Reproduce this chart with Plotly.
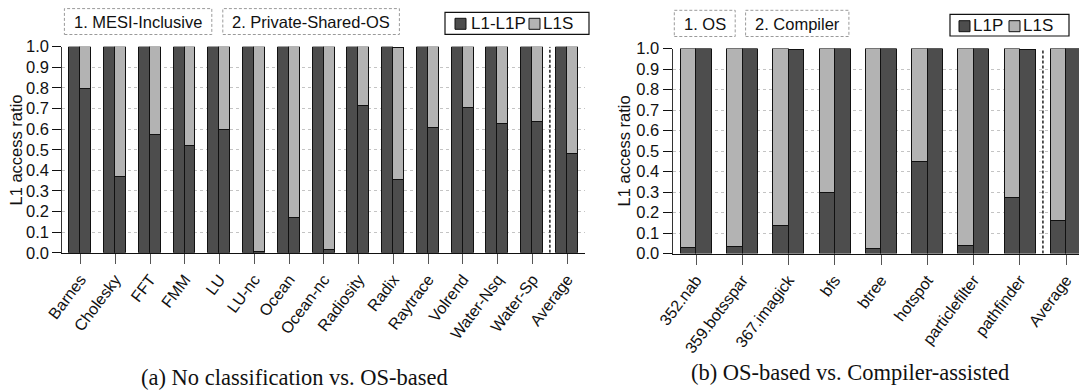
import plotly.graph_objects as go

# ---------------- data ----------------
cats_a = ["Barnes", "Cholesky", "FFT", "FMM", "LU", "LU-nc", "Ocean", "Ocean-nc",
          "Radiosity", "Radix", "Raytrace", "Volrend", "Water-Nsq", "Water-Sp", "Average"]
mesi_l1p = [1.0] * 15
psos_l1p = [0.795, 0.37, 0.572, 0.52, 0.597, 0.005, 0.17, 0.017, 0.714, 0.355,
            0.606, 0.702, 0.628, 0.636, 0.48]
psos_l1s = [0.205, 0.63, 0.428, 0.48, 0.403, 0.995, 0.83, 0.983, 0.286, 0.64,
            0.394, 0.298, 0.372, 0.364, 0.52]

cats_b = ["352.nab", "359.botsspar", "367.imagick", "bfs", "btree", "hotspot",
          "particlefilter", "pathfinder", "Average"]
os_l1p = [0.031, 0.033, 0.136, 0.296, 0.023, 0.448, 0.040, 0.274, 0.161]
os_l1s = [0.969, 0.967, 0.864, 0.704, 0.977, 0.552, 0.960, 0.726, 0.839]
comp_l1p = [0.998, 1.0, 0.993, 1.0, 1.0, 1.0, 0.998, 0.995, 0.998]

yticks = [0.0, 0.1, 0.2, 0.3, 0.4, 0.5, 0.6, 0.7, 0.8, 0.9, 1.0]
ytext = ["0.0", "0.1", "0.2", "0.3", "0.4", "0.5", "0.6", "0.7", "0.8", "0.9", "1.0"]

DARK = "#4d4d4d"
LIGHT = "#b3b3b3"
W, H = 1079, 390
SANS = "Liberation Sans, Arial, sans-serif"
SERIF = "Liberation Serif, Times New Roman, serif"


def X(px):
    return px / W


def Y(py):
    return 1 - py / H


fig = go.Figure()
line = dict(color="#111", width=1)

# left chart
wa = 0.316
xa1 = [i - wa / 2 for i in range(len(cats_a))]
xa2 = [i + wa / 2 for i in range(len(cats_a))]
fig.add_bar(x=xa1, y=mesi_l1p, width=wa, marker=dict(color=DARK, line=line),
            xaxis="x", yaxis="y", showlegend=False, name="L1-L1P")
fig.add_bar(x=xa2, y=psos_l1p, width=wa, marker=dict(color=DARK, line=line),
            xaxis="x", yaxis="y", showlegend=False, name="L1-L1P")
fig.add_bar(x=xa2, y=psos_l1s, width=wa, marker=dict(color=LIGHT, line=line),
            xaxis="x", yaxis="y", showlegend=False, name="L1S")

# right chart
wb = 0.335
xb1 = [i - wb / 2 for i in range(len(cats_b))]
xb2 = [i + wb / 2 for i in range(len(cats_b))]
fig.add_bar(x=xb1, y=os_l1p, width=wb, marker=dict(color=DARK, line=line),
            xaxis="x2", yaxis="y2", showlegend=False, name="L1P")
fig.add_bar(x=xb1, y=os_l1s, width=wb, marker=dict(color=LIGHT, line=line),
            xaxis="x2", yaxis="y2", showlegend=False, name="L1S")
fig.add_bar(x=xb2, y=comp_l1p, width=wb, marker=dict(color=DARK, line=line),
            xaxis="x2", yaxis="y2", showlegend=False, name="L1P")

xcommon = dict(showline=True, linecolor="#111", linewidth=1.2, ticks="outside",
               ticklen=10, tickcolor="#555", tickwidth=1.2, tickangle=-53,
               showgrid=False, zeroline=False, automargin=False,
               tickfont=dict(family=SANS, size=16, color="#111"), fixedrange=True)
ycommon = dict(range=[0, 1], tickvals=yticks, ticktext=ytext, showline=True,
               linecolor="#333", linewidth=1.2, ticks="outside", ticklen=9,
               tickcolor="#111", tickwidth=1.2, showgrid=True, gridcolor="#c4c4c4",
               griddash="dot", gridwidth=1, zeroline=False, automargin=False,
               tickfont=dict(family=SANS, size=16.5, color="#111"), fixedrange=True)

fig.update_layout(
    width=W, height=H, margin=dict(l=0, r=0, t=0, b=0),
    paper_bgcolor="white", plot_bgcolor="white", barmode="stack", bargap=0,
    xaxis=dict(domain=[X(62.3), X(585)], range=[-0.523, 14.51],
               tickvals=list(range(len(cats_a))), ticktext=cats_a, anchor="y", **xcommon),
    yaxis=dict(domain=[Y(252.8), Y(46.7)], anchor="x", **ycommon),
    xaxis2=dict(domain=[X(672.6), 1.0], range=[-0.506, 8.28],
                tickvals=list(range(len(cats_b))), ticktext=cats_b, anchor="y2", **xcommon),
    yaxis2=dict(domain=[Y(253.5), Y(48.5)], anchor="x2", **ycommon),
)

shapes = []
# separators before Average
shapes.append(dict(type="line", xref="x", yref="y", x0=len(cats_a) - 1.5, x1=len(cats_a) - 1.5,
                   y0=0, y1=1, line=dict(color="#222", width=1.5, dash="3px,2px")))
shapes.append(dict(type="line", xref="x2", yref="y2", x0=len(cats_b) - 1.5, x1=len(cats_b) - 1.5,
                   y0=0, y1=1, line=dict(color="#222", width=1.5, dash="3px,2px")))


def dbox(x0, x1, y0, y1):
    shapes.append(dict(type="rect", xref="paper", yref="paper", x0=X(x0), x1=X(x1),
                       y0=Y(y1), y1=Y(y0), line=dict(color="#9a9a9a", width=1, dash="3px,2px")))


def sbox(x0, x1, y0, y1, fill, lw=1):
    shapes.append(dict(type="rect", xref="paper", yref="paper", x0=X(x0), x1=X(x1),
                       y0=Y(y1), y1=Y(y0), fillcolor=fill, line=dict(color="#111", width=lw)))


annotations = []


def text(px, py, s, size=16, xanchor="center", family=SANS, angle=0):
    annotations.append(dict(x=X(px), y=Y(py), xref="paper", yref="paper", text=s,
                            showarrow=False, xanchor=xanchor, yanchor="middle",
                            textangle=angle, font=dict(family=family, size=size, color="#111")))


# config label boxes
dbox(64.4, 211.8, 8.6, 34.5)
dbox(222.8, 399.4, 8.6, 34.5)
text(138, 21.5, "1. MESI-Inclusive", size=16.5)
text(311, 21.5, "2. Private-Shared-OS", size=16.5)
dbox(674.3, 735.2, 10.3, 36.5)
dbox(745.6, 848.9, 10.3, 36.5)
text(704.8, 23.5, "1. OS", size=16.5)
text(797.2, 23.5, "2. Compiler", size=16.5)

# legends
sbox(445, 589, 12.3, 34.3, "white", 1.2)
sbox(455, 466, 18.3, 29.3, DARK)
text(469, 23.5, "L1-L1P", size=17, xanchor="left")
sbox(529, 540, 18.3, 29.3, LIGHT)
text(541, 23.5, "L1S", size=17, xanchor="left")

sbox(950, 1069, 14.3, 36, "white", 1.2)
sbox(959, 970, 20.7, 31.7, DARK)
text(971, 26, "L1P", size=17, xanchor="left")
sbox(1009, 1020, 20.7, 31.7, LIGHT)
text(1021, 26, "L1S", size=17, xanchor="left")

# axis titles
text(15.5, 150, "L1 access ratio", size=16.5, angle=-90)
text(624.4, 151, "L1 access ratio", size=16.5, angle=-90)

# captions
text(294, 377, "(a) No classification vs. OS-based", size=22.5, family=SERIF)
text(850, 372, "(b) OS-based vs. Compiler-assisted", size=22.5, family=SERIF)

fig.update_layout(shapes=shapes, annotations=annotations)
fig.write_html("out.html", config={"displayModeBar": False},
               post_script="document.body.style.margin='0';document.body.style.overflow='hidden';")
